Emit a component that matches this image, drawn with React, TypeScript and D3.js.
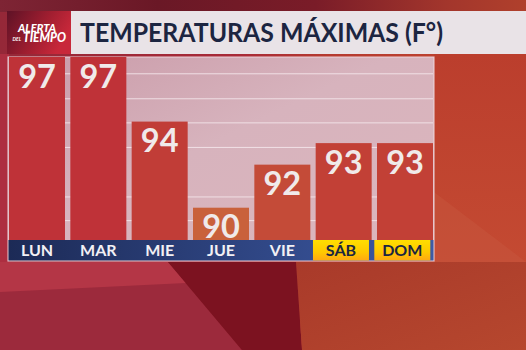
import React from "react";
import * as d3 from "d3";

const days = ["LUN", "MAR", "MIE", "JUE", "VIE", "SÁB", "DOM"];
const highs = [97, 97, 94, 90, 92, 93, 93];
const weekendDays = ["SÁB", "DOM"];
const gridLevels = [89.4, 90.5, 92.8, 93.94, 95.06, 96.22];
const titleText = "TEMPERATURAS MÁXIMAS (F°)";

const W = 526;
const H = 350;

export default function App() {
  const x = d3.scaleBand<string>().domain(days).range([9, 433]).paddingInner(0.087).paddingOuter(0);
  const y = d3.scaleLinear().domain([88.5, 97]).range([240, 57]);
  const color = d3
    .scaleLinear<string>()
    .domain([90, 93, 97])
    .range(["#c9613b", "#c24036", "#bf3238"])
    .clamp(true);
  const font = "Lato, 'Open Sans', sans-serif";
  const bw = x.bandwidth();

  return (
    <svg width={W} height={H} style={{ position: "fixed", left: 0, top: 0, display: "block" }}>
      <defs>
        <linearGradient id="bg" x1="0" x2="1" y1="0" y2="0">
          <stop offset="0" stopColor="#952838" />
          <stop offset="0.45" stopColor="#a82a38" />
          <stop offset="0.62" stopColor="#b53a30" />
          <stop offset="1" stopColor="#c2472f" />
        </linearGradient>
        <linearGradient id="topband" x1="0" x2="1" y1="0" y2="0">
          <stop offset="0" stopColor="#7e2434" />
          <stop offset="0.3" stopColor="#6a1826" />
          <stop offset="0.6" stopColor="#7a1c28" />
          <stop offset="0.85" stopColor="#a3362c" />
          <stop offset="1" stopColor="#b0402c" />
        </linearGradient>
        <linearGradient id="rightside" x1="0" x2="0" y1="0" y2="1">
          <stop offset="0" stopColor="#bb3e2d" />
          <stop offset="1" stopColor="#c44a32" />
        </linearGradient>
        <linearGradient id="lowright" x1="0" x2="1" y1="0" y2="1">
          <stop offset="0" stopColor="#a93a2a" />
          <stop offset="1" stopColor="#b6472e" />
        </linearGradient>
        <linearGradient id="logo" x1="0" x2="1" y1="0" y2="0.4">
          <stop offset="0" stopColor="#5e1226" />
          <stop offset="0.6" stopColor="#a01e30" />
          <stop offset="1" stopColor="#c8283a" />
        </linearGradient>
        <linearGradient id="panel" x1="0" x2="1" y1="0" y2="1">
          <stop offset="0" stopColor="#c99aa8" />
          <stop offset="0.45" stopColor="#d7b3bd" />
          <stop offset="1" stopColor="#dcb6bd" />
        </linearGradient>
        <linearGradient id="blue" x1="0" x2="1" y1="0" y2="0">
          <stop offset="0" stopColor="#1c2a56" />
          <stop offset="1" stopColor="#3d5aa5" />
        </linearGradient>
        <linearGradient id="yellow" x1="0" x2="0" y1="0" y2="1">
          <stop offset="0" stopColor="#ffde00" />
          <stop offset="0.6" stopColor="#ffc800" />
          <stop offset="1" stopColor="#ffa812" />
        </linearGradient>
      </defs>

      {/* background */}
      <rect x={0} y={0} width={W} height={H} fill="url(#bg)" />
      <rect x={0} y={0} width={W} height={12} fill="url(#topband)" />
      <rect x={434} y={54} width={92} height={210} fill="url(#rightside)" />
      <polygon points="434,192 526,262 434,262" fill="#c85a42" opacity={0.4} />
      <rect x={0} y={54} width={9} height={210} fill="#ad2e40" />
      <rect x={0} y={262} width={300} height={88} fill="#8a1a28" />
      <polygon points="0,262 168,262 242,350 0,350" fill="#9c2a3c" />
      <polygon points="0,262 168,262 186,283 0,292" fill="#b43646" />
      <polygon points="168,262 296,262 302,350 242,350" fill="#7c1220" />
      <polygon points="296,262 526,262 526,350 302,350" fill="url(#lowright)" />

      {/* title bar */}
      <rect x={7} y={11} width={64} height={43} fill="url(#logo)" />
      <rect x={71} y={11} width={455} height={43} fill="#e9e3e7" />
      <text x={18} y={32} fill="#ffffff" fontFamily={font} fontWeight={900} fontStyle="italic" fontSize={12} textLength={38} lengthAdjust="spacingAndGlyphs">
        ALERTA
      </text>
      <text x={12.5} y={40.5} fill="#ffffff" fontFamily={font} fontWeight={700} fontStyle="italic" fontSize={5}>
        DEL
      </text>
      <text x={23} y={42} fill="#ffffff" fontFamily={font} fontWeight={900} fontStyle="italic" fontSize={12.5} textLength={43} lengthAdjust="spacingAndGlyphs">
        TIEMPO
      </text>
      <text x={80} y={42} fill="#1c2541" fontFamily={font} fontWeight={700} fontSize={26} textLength={363} lengthAdjust="spacingAndGlyphs">
        {titleText}
      </text>

      {/* panel */}
      <rect x={8} y={57} width={426} height={204} fill="url(#panel)" stroke="#f0d8de" strokeOpacity={0.8} strokeWidth={1.2} />
      {gridLevels.map((g) => (
        <line key={g} x1={9} x2={433} y1={y(g)} y2={y(g)} stroke="#f4e8ec" strokeOpacity={0.85} strokeWidth={1} />
      ))}

      {/* bars */}
      {days.map((d, i) => (
        <rect key={d} x={x(d)} y={y(highs[i])} width={bw} height={y.range()[0] - y(highs[i])} fill={color(highs[i])} />
      ))}
      {days.map((d, i) => (
        <text
          key={"v" + d}
          x={(x(d) as number) + bw / 2}
          y={y(highs[i]) + 30.5}
          textAnchor="middle"
          fill="#f0eaea"
          fontFamily={font}
          fontWeight={700}
          fontSize={32.5}
        >
          {highs[i]}
        </text>
      ))}

      {/* axis band */}
      <rect x={8.5} y={240} width={425} height={20.5} fill="url(#blue)" />
      {days
        .filter((d) => weekendDays.includes(d))
        .map((d) => (
          <rect key={"y" + d} x={(x(d) as number) - 2.7} y={240} width={bw} height={20.5} fill="url(#yellow)" />
        ))}
      {days.map((d) => (
        <text
          key={"l" + d}
          x={(x(d) as number) + bw / 2 - (weekendDays.includes(d) ? 2.7 : 0)}
          y={256}
          textAnchor="middle"
          fill={weekendDays.includes(d) ? "#1c2541" : "#f2f0f4"}
          fontFamily={font}
          fontWeight={700}
          fontSize={16}
        >
          {d}
        </text>
      ))}
    </svg>
  );
}
